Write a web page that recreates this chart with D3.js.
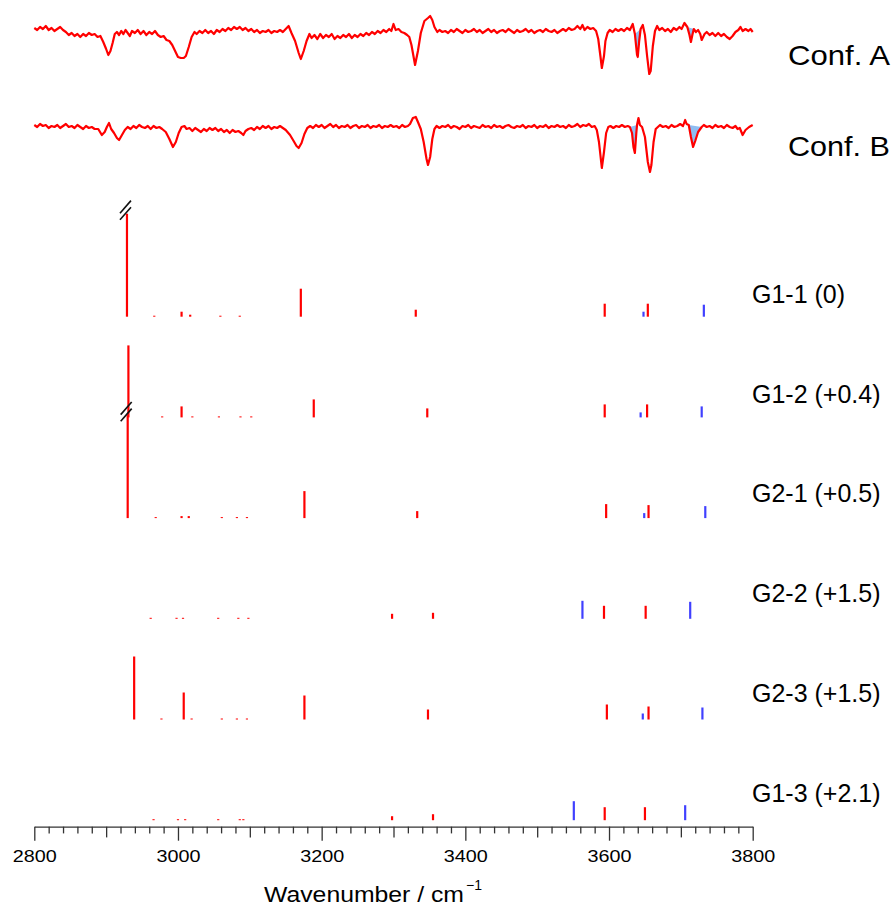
<!DOCTYPE html>
<html>
<head>
<meta charset="utf-8">
<script src="https://cdn.jsdelivr.net/npm/d3@7"></script>
<style>
body { margin: 0; background: #fff; }
text { font-family: Arial, "Liberation Sans", sans-serif; fill: #000; }
</style>
</head>
<body>
<div id="chart"></div>
<script>
// measured spectra: [wavenumber, signal]
var confA = [[2800,3],[2804,1],[2808,4],[2812,2],[2816,5],[2820,1],[2824,3],[2828,0],[2832,2],[2836,4],[2840,1],[2844,-1],[2848,-4],[2852,-2],[2856,-5],[2860,-3],[2864,-6],[2868,-3],[2872,-5],[2876,-2],[2880,-4],[2884,-3],[2888,-6],[2892,-5],[2896,-11],[2900,-18],[2903,-24],[2906,-20],[2909,-12],[2912,-3],[2915,-1],[2918,-4],[2921,0],[2924,-3],[2927,1],[2930,-2],[2933,-5],[2936,0],[2940,-2],[2944,1],[2948,-3],[2952,0],[2956,-4],[2960,-1],[2964,-3],[2968,0],[2972,-4],[2976,-6],[2980,-5],[2984,-9],[2988,-10],[2992,-14],[2996,-20],[3000,-26],[3004,-27],[3008,-27],[3011,-25],[3015,-16],[3019,-6],[3023,-1],[3026,-3],[3030,0],[3034,-2],[3038,1],[3042,-2],[3046,0],[3050,-3],[3054,1],[3058,-1],[3062,2],[3066,0],[3070,3],[3074,1],[3078,4],[3082,2],[3086,4],[3090,1],[3094,3],[3098,0],[3102,2],[3106,-1],[3110,1],[3114,-2],[3118,0],[3122,-1],[3126,1],[3130,-2],[3134,0],[3138,-1],[3142,1],[3146,-1],[3150,2],[3154,5],[3158,-2],[3163,-10],[3168,-22],[3171,-28],[3175,-20],[3179,-10],[3183,-3],[3186,-7],[3190,-4],[3194,-8],[3198,-3],[3202,-7],[3206,-4],[3210,-6],[3214,-3],[3218,-8],[3222,-5],[3226,-7],[3230,-4],[3234,-6],[3238,-3],[3242,-7],[3246,-4],[3250,-6],[3254,-3],[3258,-5],[3262,-2],[3266,-4],[3270,-1],[3274,-3],[3278,0],[3282,-2],[3286,1],[3290,-1],[3294,2],[3297,0],[3300,7],[3303,1],[3307,2],[3311,-1],[3315,-2],[3319,-4],[3322,-6],[3325,-14],[3330,-34],[3334,-20],[3338,-2],[3343,10],[3348,13],[3351,15],[3354,11],[3357,4],[3361,-1],[3364,1],[3368,-1],[3372,0],[3376,-2],[3380,1],[3384,-1],[3388,2],[3392,0],[3396,-2],[3400,1],[3404,-1],[3408,0],[3412,2],[3416,-1],[3420,1],[3424,-2],[3428,0],[3432,2],[3436,-1],[3440,1],[3444,-2],[3448,0],[3452,1],[3456,-1],[3460,2],[3464,0],[3468,-2],[3472,1],[3476,-1],[3480,0],[3484,2],[3488,-1],[3492,1],[3496,-2],[3500,0],[3504,1],[3508,-1],[3512,2],[3516,0],[3520,-1],[3524,1],[3528,-2],[3532,0],[3536,2],[3540,0],[3544,3],[3548,1],[3552,2],[3556,5],[3560,2],[3563,6],[3566,1],[3570,4],[3574,2],[3578,3],[3582,0],[3585,-8],[3588,-25],[3590,-37],[3593,-25],[3595,-10],[3598,-2],[3601,1],[3605,-1],[3609,2],[3613,0],[3617,2],[3621,0],[3625,3],[3629,1],[3633,7],[3636,-3],[3639,-24],[3640,-26],[3642,-10],[3644,2],[3647,6],[3650,-4],[3653,-25],[3656,-43],[3658,-40],[3661,-15],[3664,0],[3667,5],[3670,1],[3674,3],[3678,0],[3682,2],[3686,-1],[3690,3],[3694,1],[3698,4],[3701,2],[3705,8],[3709,4],[3712,-4],[3714,-11],[3716,-4],[3718,2],[3721,-1],[3724,1],[3727,-3],[3729,-9],[3733,-3],[3736,-1],[3740,-4],[3744,-2],[3748,-5],[3752,-2],[3756,-5],[3760,-3],[3764,-6],[3768,-8],[3772,-5],[3776,-1],[3780,1],[3783,4],[3786,0],[3790,2],[3794,0],[3797,2],[3800,-1]];
var confB = [[2800,2],[2804,0],[2808,3],[2812,1],[2816,2],[2820,-1],[2824,1],[2828,0],[2832,2],[2836,-1],[2840,1],[2844,3],[2848,0],[2852,1],[2856,-1],[2860,2],[2864,0],[2868,-2],[2872,1],[2876,-1],[2880,0],[2884,-2],[2889,-2],[2894,-8],[2898,-5],[2901,0],[2904,4],[2907,-2],[2911,-6],[2915,-11],[2918,-13],[2922,-8],[2926,-3],[2930,0],[2934,-2],[2938,1],[2942,-1],[2946,2],[2950,0],[2954,-1],[2958,1],[2962,-2],[2966,1],[2970,-1],[2974,0],[2978,-2],[2983,-5],[2988,-12],[2993,-20],[2997,-15],[3001,-6],[3005,0],[3009,1],[3012,-2],[3016,-1],[3020,-4],[3024,-1],[3028,-3],[3032,-5],[3036,-2],[3040,-4],[3044,-1],[3048,-3],[3052,-1],[3056,-4],[3060,-2],[3064,-5],[3068,-3],[3072,-6],[3076,-3],[3080,-5],[3084,-4],[3088,-6],[3091,-8],[3094,-4],[3098,-2],[3102,-1],[3106,-3],[3110,0],[3114,-2],[3118,1],[3122,-1],[3126,1],[3130,-2],[3134,0],[3138,-1],[3142,1],[3146,-1],[3150,-3],[3156,-8],[3161,-14],[3165,-19],[3168,-21],[3172,-16],[3176,-7],[3180,-1],[3184,1],[3188,-1],[3192,2],[3196,0],[3200,2],[3204,-1],[3208,1],[3212,3],[3216,0],[3220,2],[3224,-1],[3228,1],[3232,0],[3236,2],[3240,-1],[3244,1],[3248,2],[3252,-1],[3256,1],[3260,0],[3264,2],[3268,-1],[3272,1],[3276,0],[3280,2],[3284,-1],[3288,1],[3292,0],[3296,2],[3300,0],[3304,1],[3308,-1],[3312,2],[3316,0],[3320,1],[3323,3],[3327,9],[3331,10],[3334,5],[3338,-2],[3342,-15],[3346,-32],[3348,-38],[3351,-30],[3354,-12],[3357,-2],[3360,1],[3364,-1],[3368,1],[3372,0],[3376,2],[3380,-1],[3384,1],[3388,0],[3392,-2],[3396,1],[3400,0],[3404,2],[3408,-1],[3412,1],[3416,0],[3420,-1],[3424,2],[3428,0],[3432,1],[3436,-1],[3440,2],[3444,0],[3448,1],[3452,-1],[3456,1],[3460,2],[3464,0],[3468,-1],[3472,1],[3476,0],[3480,2],[3484,-1],[3488,1],[3492,0],[3496,2],[3500,-1],[3504,1],[3508,0],[3512,2],[3516,-1],[3520,1],[3524,0],[3528,2],[3532,0],[3536,1],[3540,-1],[3544,2],[3548,0],[3552,1],[3556,3],[3560,0],[3564,2],[3568,1],[3572,3],[3576,0],[3580,1],[3583,-3],[3586,-15],[3590,-41],[3593,-25],[3596,-6],[3599,0],[3602,1],[3606,-1],[3610,1],[3614,0],[3618,2],[3622,0],[3626,1],[3629,0],[3632,-6],[3634,-20],[3636,-26],[3638,-6],[3639,2],[3641,9],[3643,2],[3646,0],[3650,-10],[3654,-35],[3657,-45],[3659,-38],[3662,-15],[3665,-2],[3668,0],[3671,2],[3675,0],[3679,1],[3683,-1],[3687,2],[3691,0],[3695,1],[3699,3],[3703,1],[3706,7],[3708,3],[3711,2],[3714,-10],[3717,-20],[3720,-14],[3724,-5],[3729,0],[3732,2],[3736,0],[3740,1],[3744,-1],[3748,2],[3752,0],[3756,1],[3760,-1],[3764,2],[3768,0],[3772,-1],[3776,1],[3779,-2],[3782,-1],[3786,-8],[3790,-3],[3795,0],[3800,2]];

// shaded bands (wavenumber ranges)
var shadeA = [[3636, 3644], [3709, 3718]];
var shadeB = [[3629, 3639], [3711, 3729]];

var spectrumLabels = ["Conf. A", "Conf. B"];

// calculated sticks: [wavenumber, intensity]
var conformers = ["G1-1 (0)", "G1-2 (+0.4)", "G2-1 (+0.5)", "G2-2 (+1.5)", "G2-3 (+1.5)", "G1-3 (+2.1)"];
var redSticks = [
  [[2929,250],[2967,1],[3005,5],[3017,2],[3059,1],[3086,1],[3171,28],[3331,7],[3594,13],[3654,13]],
  [[2931,72],[2978,1],[3005,11],[3020,1],[3057,1],[3087,1],[3102,1],[3189,18],[3347,9],[3594,13],[3653,13]],
  [[2930,250],[2969,1],[3005,2],[3015,2],[3061,1],[3082,1],[3096,1],[3176,27],[3333,7],[3596,14],[3655,13]],
  [[2962,1],[2998,1],[3007,1],[3056,1],[3084,1],[3098,1],[3298,5],[3355,6],[3593,13],[3651,13]],
  [[2939,63],[2977,1],[3008,27],[3019,1],[3061,1],[3082,1],[3096,1],[3176,24],[3348,10],[3597,15],[3655,13]],
  [[2966,1],[3000,1],[3010,1],[3056,1],[3086,1],[3091,1],[3298,4],[3355,6],[3594,13],[3650,13]]
];
var blueSticks = [
  [[3648,5],[3732,12]],
  [[3644,5],[3729,11]],
  [[3649,5],[3734,12]],
  [[3563,18],[3713,17]],
  [[3647,6],[3730,12]],
  [[3551,19],[3706,15]]
];

var xTicksMajor = [2800, 3000, 3200, 3400, 3600, 3800];

var svgWidth = 896;
var svgHeight = 907;

var svg = d3.select("#chart")
  .append("svg")
  .attr("width", svgWidth)
  .attr("height", svgHeight);

var x = d3.scaleLinear().domain([2800, 3800]).range([34.3, 752.7]);

// spectra
var ySpecA = d3.scaleLinear().domain([-50, 20]).range([81, 11]);
var ySpecB = d3.scaleLinear().domain([-50, 20]).range([177, 107]);

function drawSpectrum(data, y, shades, label, labelY) {
  var g = svg.append("g");
  shades.forEach(function(r) {
    var pts = data.filter(d => d[0] >= r[0] && d[0] <= r[1]);
    var a = pts[0], b = pts[pts.length - 1];
    var poly = pts.map(d => [x(d[0]), y(d[1])]);
    poly.push([x(b[0]), y(b[1])]);
    poly.push([x(a[0]), y(a[1])]);
    g.append("path")
      .attr("d", d3.line()(poly) + "Z")
      .attr("fill", "#8fbdf2")
      .attr("stroke", "none");
  });
  g.append("path")
    .datum(data)
    .attr("fill", "none")
    .attr("stroke", "#ff0000")
    .attr("stroke-width", 2.2)
    .attr("stroke-linejoin", "round")
    .attr("d", d3.line().x(d => x(d[0])).y(d => y(d[1])));
  g.append("text")
    .attr("x", 788)
    .attr("y", labelY)
    .attr("font-size", "28px")
    .attr("textLength", 102)
    .attr("lengthAdjust", "spacingAndGlyphs")
    .text(label);
}

drawSpectrum(confA, ySpecA, shadeA, spectrumLabels[0], 65);
drawSpectrum(confB, ySpecB, shadeB, spectrumLabels[1], 156);

// stick panels
var baseline = d3.scaleLinear().domain([0, 5]).range([316.7, 820.2]);
var labelY = d3.scaleLinear().domain([0, 5]).range([303, 801.7]);
var h = d3.scaleLinear().domain([0, 100]).range([0, 100]);
var cap = 103;

conformers.forEach(function(name, i) {
  var g = svg.append("g").attr("transform", `translate(0, ${baseline(i)})`);

  function sticks(data, color) {
    g.selectAll(null)
      .data(data)
      .enter()
      .append("line")
      .attr("x1", d => x(d[0]))
      .attr("x2", d => x(d[0]))
      .attr("y1", 0)
      .attr("y2", d => -Math.min(h(d[1]), cap))
      .attr("stroke", color)
      .attr("stroke-width", 2.2);
  }
  sticks(redSticks[i], "#ff0000");
  sticks(blueSticks[i], "#4040ff");

  // break marks on clipped sticks
  redSticks[i].filter(d => h(d[1]) > cap).forEach(function(d) {
    var cx = x(d[0]) - 1.5, cy = -cap - 3.5;
    [-3.3, 3.3].forEach(function(off) {
      g.append("line")
        .attr("x1", cx - 5.5).attr("y1", cy + off + 6.3)
        .attr("x2", cx + 5.5).attr("y2", cy + off - 6.3)
        .attr("stroke", "#111")
        .attr("stroke-width", 1.6);
    });
  });

  svg.append("text")
    .attr("x", 752)
    .attr("y", labelY(i))
    .attr("font-size", "25px")
    .text(name);
});

// axis
var axisY = 826.7;
var minorTicks = d3.range(2800, 3801, 20).filter(v => v % 100 !== 0);
var midTicks = d3.range(2900, 3800, 200);

var axisG = svg.append("g").attr("transform", `translate(0, ${axisY})`);

axisG.append("g")
  .call(d3.axisBottom(x).tickValues(minorTicks).tickSize(6.7).tickFormat(""))
  .call(g => g.select(".domain").remove());
axisG.append("g")
  .call(d3.axisBottom(x).tickValues(midTicks).tickSize(10.7).tickFormat(""))
  .call(g => g.select(".domain").remove());
axisG.append("g")
  .call(d3.axisBottom(x).tickValues(xTicksMajor).tickSize(14).tickSizeOuter(0).tickFormat(d3.format("d")))
  .call(g => g.selectAll("text")
    .attr("y", 862 - axisY)
    .attr("dy", 0)
    .attr("font-size", "16.5px")
    .attr("font-family", "Arial, 'Liberation Sans', sans-serif")
    .attr("fill", "#000")
    .attr("textLength", 44)
    .attr("lengthAdjust", "spacingAndGlyphs"));

axisG.selectAll("line, path")
  .attr("stroke", "#333")
  .attr("stroke-width", 1.3);

svg.append("text")
  .attr("x", 264)
  .attr("y", 901.7)
  .attr("font-size", "22px")
  .attr("textLength", 200)
  .attr("lengthAdjust", "spacingAndGlyphs")
  .text("Wavenumber / cm");
svg.append("text")
  .attr("x", 466)
  .attr("y", 889.5)
  .attr("font-size", "14px")
  .text("−1");
</script>
</body>
</html>
